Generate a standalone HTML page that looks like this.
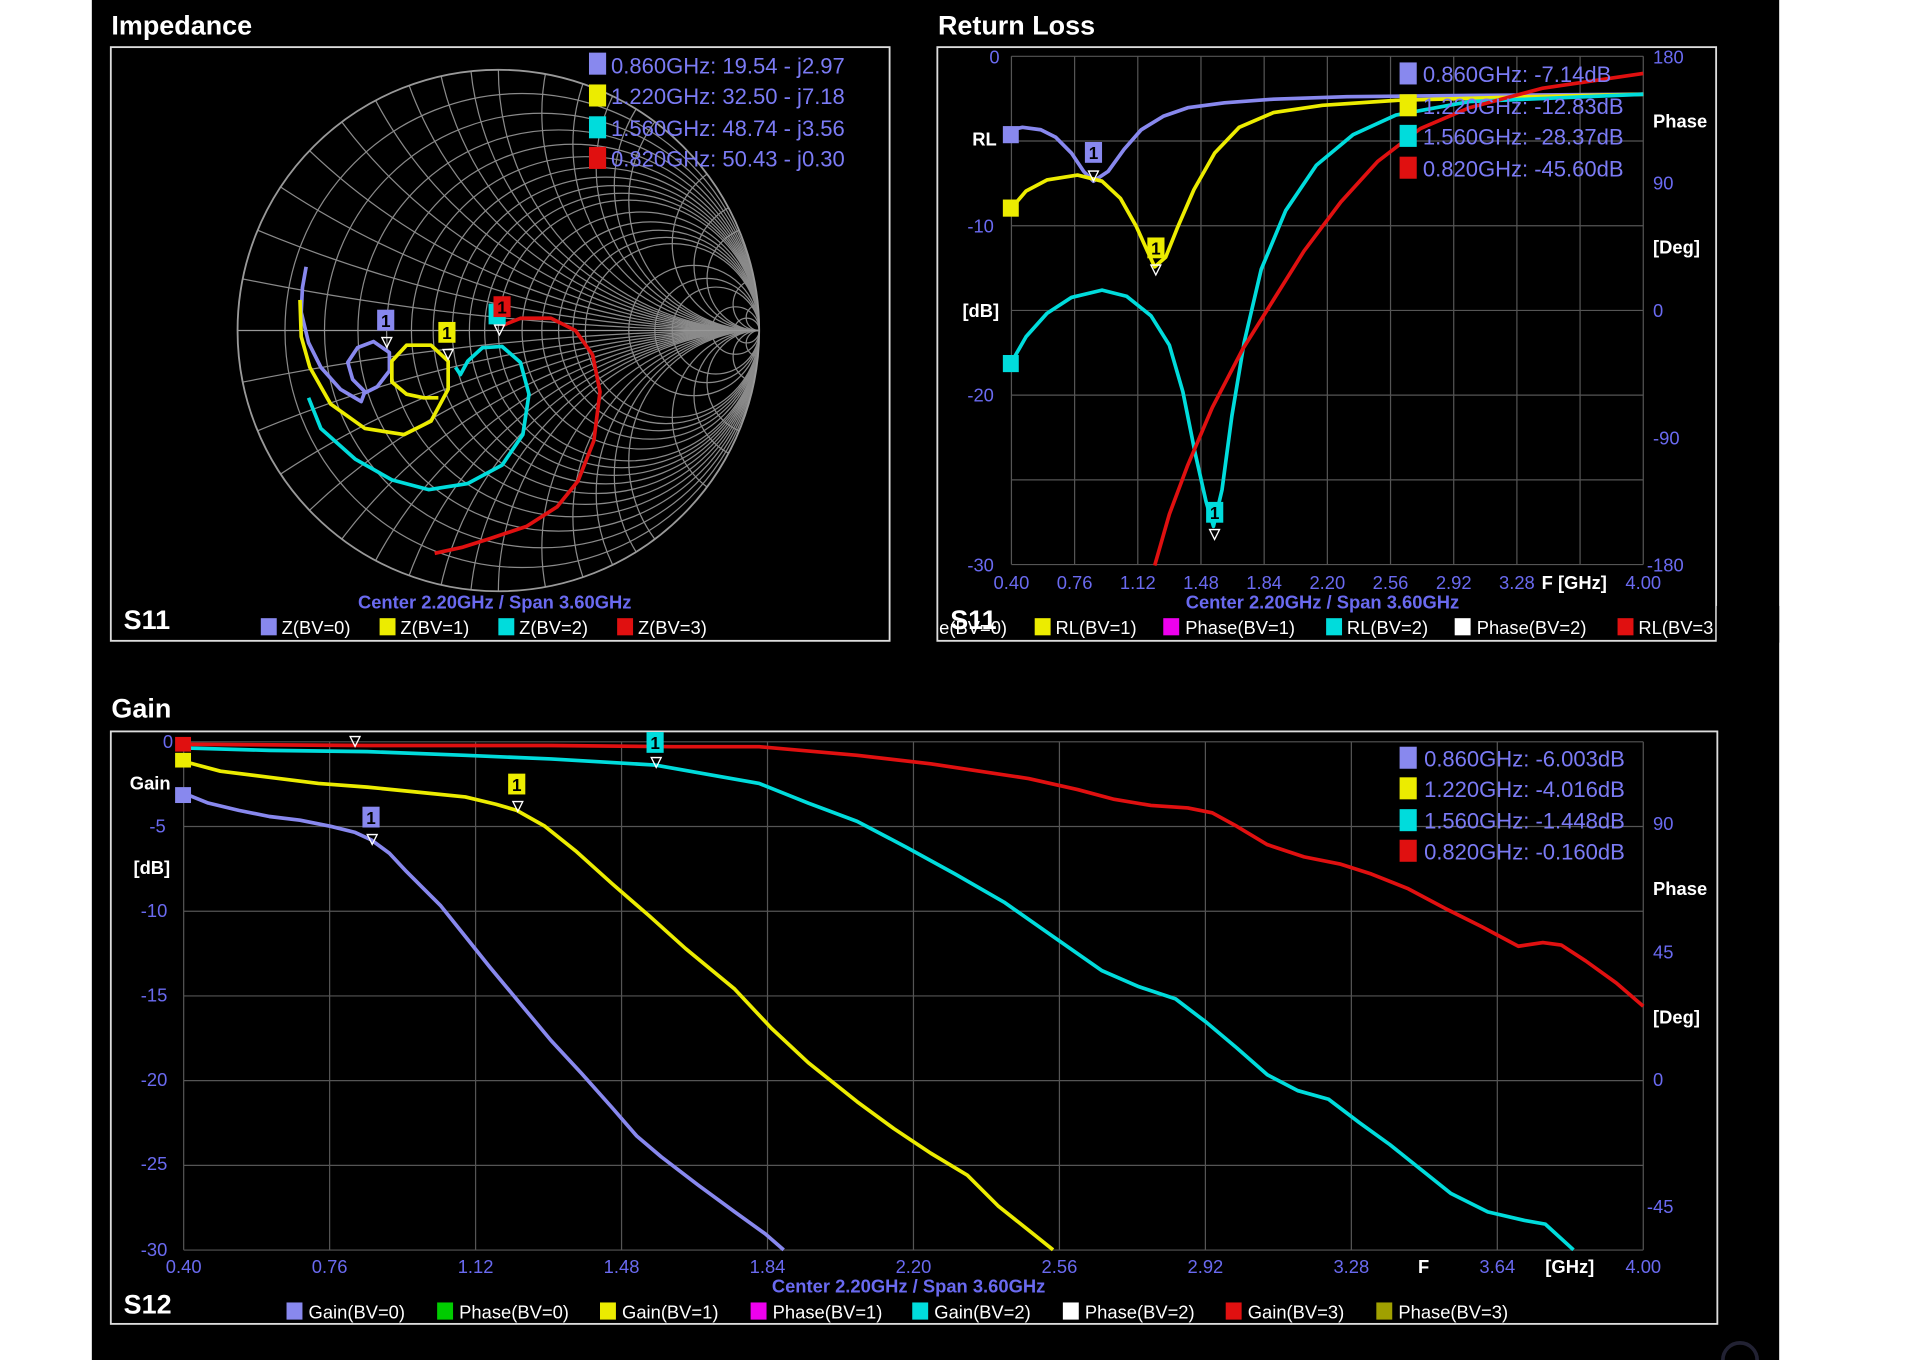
<!DOCTYPE html>
<html><head><meta charset="utf-8"><style>
html,body{margin:0;padding:0;background:#fff;width:1920px;height:1360px;overflow:hidden}
svg{display:block}
text{font-family:"Liberation Sans",sans-serif}
.t{fill:#fff;font-weight:bold;font-size:22px}
.ax{fill:#6a6af0;font-size:15px}
.lb{fill:#fff;font-size:15px;font-weight:bold}
.lg{fill:#fff;font-size:15px}
.mk{fill:#7b7bf5;font-size:18px}
.grid line{stroke:#555;stroke-width:1}
</style></head><body>
<svg width="1920" height="1360" viewBox="0 0 1568 1111" preserveAspectRatio="none" xmlns="http://www.w3.org/2000/svg">
<rect x="75" y="0" width="1378" height="1111" fill="#000"/>
<circle cx="1421" cy="1111" r="14" fill="none" stroke="#223" stroke-width="3"/>
<!-- Impedance -->
<text x="91" y="28" class="t">Impedance</text>
<rect x="90.5" y="38.5" width="636" height="485" fill="none" stroke="#ddd" stroke-width="1.5"/>
<defs><clipPath id="uc"><circle cx="407" cy="270" r="213"/></clipPath></defs>
<g id="smith" clip-path="url(#uc)" fill="none" stroke="#8a8a8a" stroke-width="1"></g>
<circle cx="407" cy="270" r="213" fill="none" stroke="#999" stroke-width="1.5"/>
<line x1="194" y1="270" x2="620" y2="270" stroke="#999"/>
<g fill="none" stroke-width="3" stroke-linejoin="round">
<polyline stroke="#8888ee" points="250,218 247,235 246,255 252,280 262,300 278,318 295,328 298,320 288,310 284,296 292,284 305,279 318,288 318,303 308,316 296,322"/>
<polyline stroke="#ecec00" points="245,245 246,275 253,300 270,330 298,350 330,355 352,344 366,318 366,295 352,282 332,282 320,295 320,312 332,322 346,325 358,325"/>
<polyline stroke="#00dcdc" points="252,325 262,350 290,375 320,392 350,400 382,395 410,380 427,355 432,322 425,296 410,283 394,284 382,295 376,306 372,300"/>
<polyline stroke="#e01010" points="355,452 378,447 400,440 430,430 455,414 472,393 485,360 490,320 484,290 470,270 450,260 425,260 410,266"/>
</g>
<g font-size="14" font-weight="bold" text-anchor="middle">
<rect x="308" y="253" width="14" height="17" fill="#8888ee"/><text x="315" y="267">1</text><text x="316" y="283" fill="#fff" font-size="12">▽</text>
<rect x="358" y="263" width="14" height="17" fill="#ecec00"/><text x="365" y="277">1</text><text x="366" y="293" fill="#fff" font-size="12">▽</text>
<rect x="399" y="248" width="14" height="17" fill="#00dcdc"/><rect x="403" y="242" width="14" height="17" fill="#e01010"/><text x="410" y="256">1</text><text x="408" y="273" fill="#fff" font-size="12">▽</text>
</g>
<g class="mk">
<rect x="481" y="43" width="14" height="18" fill="#8888ee"/><text x="499" y="60">0.860GHz: 19.54 - j2.97</text>
<rect x="481" y="69" width="14" height="18" fill="#ecec00"/><text x="499" y="85">1.220GHz: 32.50 - j7.18</text>
<rect x="481" y="95" width="14" height="18" fill="#00dcdc"/><text x="499" y="111">1.560GHz: 48.74 - j3.56</text>
<rect x="481" y="120" width="14" height="18" fill="#e01010"/><text x="499" y="136">0.820GHz: 50.43 - j0.30</text>
</g>
<text x="101" y="514" class="t" font-size="22">S11</text>
<text x="404" y="497" class="ax" text-anchor="middle" font-weight="bold">Center 2.20GHz / Span 3.60GHz</text>
<g class="lg"><rect x="213" y="505" width="13" height="14" fill="#8888ee"/><text x="230" y="518">Z(BV=0)</text>
<rect x="310" y="505" width="13" height="14" fill="#ecec00"/><text x="327" y="518">Z(BV=1)</text>
<rect x="407" y="505" width="13" height="14" fill="#00dcdc"/><text x="424" y="518">Z(BV=2)</text>
<rect x="504" y="505" width="13" height="14" fill="#e01010"/><text x="521" y="518">Z(BV=3)</text></g>

<!-- Return loss -->
<text x="766" y="28" class="t">Return Loss</text>
<rect x="765.5" y="38.5" width="636" height="485" fill="none" stroke="#ddd" stroke-width="1.5"/>
<g class="grid" id="rlgrid"></g>
<g class="ax">
<text x="808" y="52">0</text><text x="790" y="190">-10</text><text x="790" y="328">-20</text><text x="790" y="467">-30</text>
<text x="1350" y="52">180</text><text x="1350" y="155">90</text><text x="1350" y="259">0</text><text x="1350" y="363">-90</text><text x="1345" y="467">-180</text>
</g>
<g class="ax" text-anchor="middle" id="rlx"></g>
<text x="1259" y="481" class="lb">F [GHz]</text>
<text x="794" y="119" class="lb">RL</text><text x="786" y="259" class="lb">[dB]</text>
<text x="1350" y="104" class="lb">Phase</text><text x="1350" y="207" class="lb">[Deg]</text>
<g fill="none" stroke-width="3" stroke-linejoin="round">
<polyline stroke="#8888ee" points="826,106 835,104 850,106 862,112 875,125 885,140 893,148 905,140 918,122 932,106 950,95 970,88 1000,84 1040,81 1100,79 1200,78 1342,77"/>
<polyline stroke="#ecec00" points="826,170 838,156 855,147 880,143 900,148 915,162 928,185 937,205 943,218 952,210 962,185 975,155 992,125 1012,104 1040,92 1080,86 1140,82 1250,79 1342,77"/>
<polyline stroke="#00dcdc" points="826,296 838,275 855,256 875,243 900,237 920,242 940,258 955,282 966,320 976,370 985,410 991,430 998,400 1006,340 1016,280 1030,220 1050,172 1075,135 1105,110 1140,94 1200,83 1342,77"/>
<polyline stroke="#e01010" points="943,462 955,420 970,380 990,333 1015,285 1040,245 1065,205 1095,165 1125,132 1160,105 1200,88 1260,72 1342,60"/>
</g>
<g font-size="14" font-weight="bold" text-anchor="middle">
<rect x="819" y="103" width="13" height="14" fill="#8888ee"/><rect x="819" y="163" width="13" height="14" fill="#ecec00"/><rect x="819" y="290" width="13" height="14" fill="#00dcdc"/>
<rect x="886" y="116" width="14" height="17" fill="#8888ee"/><text x="893" y="130">1</text><text x="893" y="147" fill="#fff" font-size="12">▽</text>
<rect x="937" y="194" width="14" height="17" fill="#ecec00"/><text x="944" y="208">1</text><text x="944" y="224" fill="#fff" font-size="12">▽</text>
<rect x="985" y="410" width="14" height="17" fill="#00dcdc"/><text x="992" y="424">1</text><text x="992" y="440" fill="#fff" font-size="12">▽</text>
</g>
<g class="mk">
<rect x="1143" y="51" width="14" height="18" fill="#8888ee"/><text x="1162" y="67">0.860GHz: -7.14dB</text>
<rect x="1143" y="77" width="14" height="18" fill="#ecec00"/><text x="1162" y="93">1.220GHz: -12.83dB</text>
<rect x="1143" y="102" width="14" height="18" fill="#00dcdc"/><text x="1162" y="118">1.560GHz: -28.37dB</text>
<rect x="1143" y="128" width="14" height="18" fill="#e01010"/><text x="1162" y="144">0.820GHz: -45.60dB</text>
</g>
<text x="1080" y="497" class="ax" text-anchor="middle" font-weight="bold">Center 2.20GHz / Span 3.60GHz</text>
<text x="776" y="514" class="t">S11</text>
<g class="lg"><text x="767" y="518">e(BV=0)</text>
<rect x="845" y="505" width="13" height="14" fill="#ecec00"/><text x="862" y="518">RL(BV=1)</text>
<rect x="950" y="505" width="13" height="14" fill="#ee00ee"/><text x="968" y="518">Phase(BV=1)</text>
<rect x="1083" y="505" width="13" height="14" fill="#00dcdc"/><text x="1100" y="518">RL(BV=2)</text>
<rect x="1188" y="505" width="13" height="14" fill="#fff"/><text x="1206" y="518">Phase(BV=2)</text>
<rect x="1321" y="505" width="13" height="14" fill="#e01010"/><text x="1338" y="518">RL(BV=3</text></g>
<rect x="1402" y="495" width="51" height="30" fill="#000"/>

<!-- Gain -->
<text x="91" y="586" class="t">Gain</text>
<rect x="90.5" y="597.5" width="1312" height="484" fill="none" stroke="#ddd" stroke-width="1.5"/>
<g class="grid" id="ggrid"></g>
<g class="ax">
<text x="133" y="611">0</text><text x="122" y="680">-5</text><text x="115" y="749">-10</text><text x="115" y="818">-15</text><text x="115" y="887">-20</text><text x="115" y="956">-25</text><text x="115" y="1026">-30</text>
<text x="1350" y="678">90</text><text x="1350" y="783">45</text><text x="1350" y="887">0</text><text x="1345" y="991">-45</text>
</g>
<g class="ax" text-anchor="middle" id="gx"></g>
<text x="1158" y="1040" class="lb">F</text><text x="1262" y="1040" class="lb">[GHz]</text>
<text x="106" y="645" class="lb">Gain</text><text x="109" y="714" class="lb">[dB]</text>
<text x="1350" y="731" class="lb">Phase</text><text x="1350" y="836" class="lb">[Deg]</text>
<g fill="none" stroke-width="3" stroke-linejoin="round">
<polyline stroke="#8888ee" points="150,648 170,656 195,662 220,667 245,670 270,675 290,680 303,686 318,697 332,712 360,740 380,765 400,790 425,820 450,850 475,877 500,905 520,928 540,945 570,968 600,990 625,1008 640,1021"/>
<polyline stroke="#ecec00" points="150,622 180,630 220,635 260,640 300,643 340,647 380,651 405,657 422,662 445,675 470,695 500,722 530,748 560,775 600,808 630,840 660,868 700,900 730,922 760,942 790,960 815,985 840,1005 860,1021"/>
<polyline stroke="#00dcdc" points="150,611 220,613 300,614 380,617 450,620 535,625 580,633 620,640 660,656 700,671 740,692 780,714 820,737 860,765 900,793 930,806 960,816 985,835 1010,856 1035,878 1060,891 1085,898 1110,917 1135,935 1160,955 1185,975 1215,990 1245,997 1262,1000 1285,1021"/>
<polyline stroke="#e01010" points="150,608 300,609 450,609 550,610 620,610 700,617 760,624 800,630 840,636 880,645 910,653 940,658 970,660 990,664 1010,675 1035,690 1065,700 1095,706 1120,714 1150,726 1180,742 1210,757 1240,773 1260,770 1275,772 1295,785 1320,803 1342,822"/>
</g>
<g font-size="14" font-weight="bold" text-anchor="middle">
<rect x="143" y="602" width="13" height="12" fill="#e01010"/><rect x="143" y="615" width="13" height="12" fill="#ecec00"/><rect x="143" y="643" width="13" height="13" fill="#8888ee"/>
<text x="290" y="609" fill="#fff" font-size="12">▽</text>
<rect x="296" y="659" width="14" height="17" fill="#8888ee"/><text x="303" y="673">1</text><text x="304" y="689" fill="#fff" font-size="12">▽</text>
<rect x="415" y="632" width="14" height="17" fill="#ecec00"/><text x="422" y="646">1</text><text x="423" y="662" fill="#fff" font-size="12">▽</text>
<rect x="528" y="598" width="14" height="17" fill="#00dcdc"/><text x="535" y="612">1</text><text x="536" y="626" fill="#fff" font-size="12">▽</text>
</g>
<g class="mk">
<rect x="1143" y="610" width="14" height="18" fill="#8888ee"/><text x="1163" y="626">0.860GHz: -6.003dB</text>
<rect x="1143" y="635" width="14" height="18" fill="#ecec00"/><text x="1163" y="651">1.220GHz: -4.016dB</text>
<rect x="1143" y="661" width="14" height="18" fill="#00dcdc"/><text x="1163" y="677">1.560GHz: -1.448dB</text>
<rect x="1143" y="686" width="14" height="18" fill="#e01010"/><text x="1163" y="702">0.820GHz: -0.160dB</text>
</g>
<text x="742" y="1056" class="ax" text-anchor="middle" font-weight="bold">Center 2.20GHz / Span 3.60GHz</text>
<text x="101" y="1073" class="t">S12</text>
<g class="lg">
<rect x="234" y="1064" width="13" height="14" fill="#8888ee"/><text x="252" y="1077">Gain(BV=0)</text>
<rect x="357" y="1064" width="13" height="14" fill="#00cc00"/><text x="375" y="1077">Phase(BV=0)</text>
<rect x="490" y="1064" width="13" height="14" fill="#ecec00"/><text x="508" y="1077">Gain(BV=1)</text>
<rect x="613" y="1064" width="13" height="14" fill="#ee00ee"/><text x="631" y="1077">Phase(BV=1)</text>
<rect x="745" y="1064" width="13" height="14" fill="#00dcdc"/><text x="763" y="1077">Gain(BV=2)</text>
<rect x="868" y="1064" width="13" height="14" fill="#fff"/><text x="886" y="1077">Phase(BV=2)</text>
<rect x="1001" y="1064" width="13" height="14" fill="#e01010"/><text x="1019" y="1077">Gain(BV=3)</text>
<rect x="1124" y="1064" width="13" height="14" fill="#a0a000"/><text x="1142" y="1077">Phase(BV=3)</text>
</g>
</svg>
<script>
var NS="http://www.w3.org/2000/svg";
function el(p,t,a,txt){var e=document.createElementNS(NS,t);for(var k in a)e.setAttribute(k,a[k]);if(txt)e.textContent=txt;p.appendChild(e);return e;}
var g=document.getElementById('smith'),cx=407,cy=270,R=213;
[0.1,0.2,0.3,0.4,0.5,0.6,0.7,0.8,0.9,1,1.2,1.4,1.6,1.8,2,3,4,5,10,20].forEach(function(r){el(g,'circle',{cx:cx+R*r/(1+r),cy:cy,r:R/(1+r)});});
[0.1,0.2,0.3,0.4,0.5,0.6,0.7,0.8,0.9,1,1.2,1.4,1.6,1.8,2,3,4,5,10,20].forEach(function(x){el(g,'circle',{cx:cx+R,cy:cy-R/x,r:R/x});el(g,'circle',{cx:cx+R,cy:cy+R/x,r:R/x});});
var labs=["0.40","0.76","1.12","1.48","1.84","2.20","2.56","2.92","3.28","","4.00"];
var rg=document.getElementById('rlgrid');
for(var i=0;i<=10;i++){var x=826+i*51.6;el(rg,'line',{x1:x,y1:46,x2:x,y2:461});}
for(var j=0;j<=6;j++){var y=46+j*69.2;el(rg,'line',{x1:826,y1:y,x2:1342,y2:y});}
var rx=document.getElementById('rlx');
for(var i=0;i<=10;i++){if(labs[i])el(rx,'text',{x:826+i*51.6,y:481},labs[i]);}
var gg=document.getElementById('ggrid');
for(var i=0;i<=10;i++){var x=150+i*119.2;el(gg,'line',{x1:x,y1:606,x2:x,y2:1021});}
for(var j=0;j<=6;j++){var y=606+j*69.2;el(gg,'line',{x1:150,y1:y,x2:1342,y2:y});}
var gx=document.getElementById('gx');
var gl=["0.40","0.76","1.12","1.48","1.84","2.20","2.56","2.92","3.28","3.64","4.00"];
for(var i=0;i<=10;i++){el(gx,'text',{x:150+i*119.2,y:1040},gl[i]);}
</script>
</body></html>
